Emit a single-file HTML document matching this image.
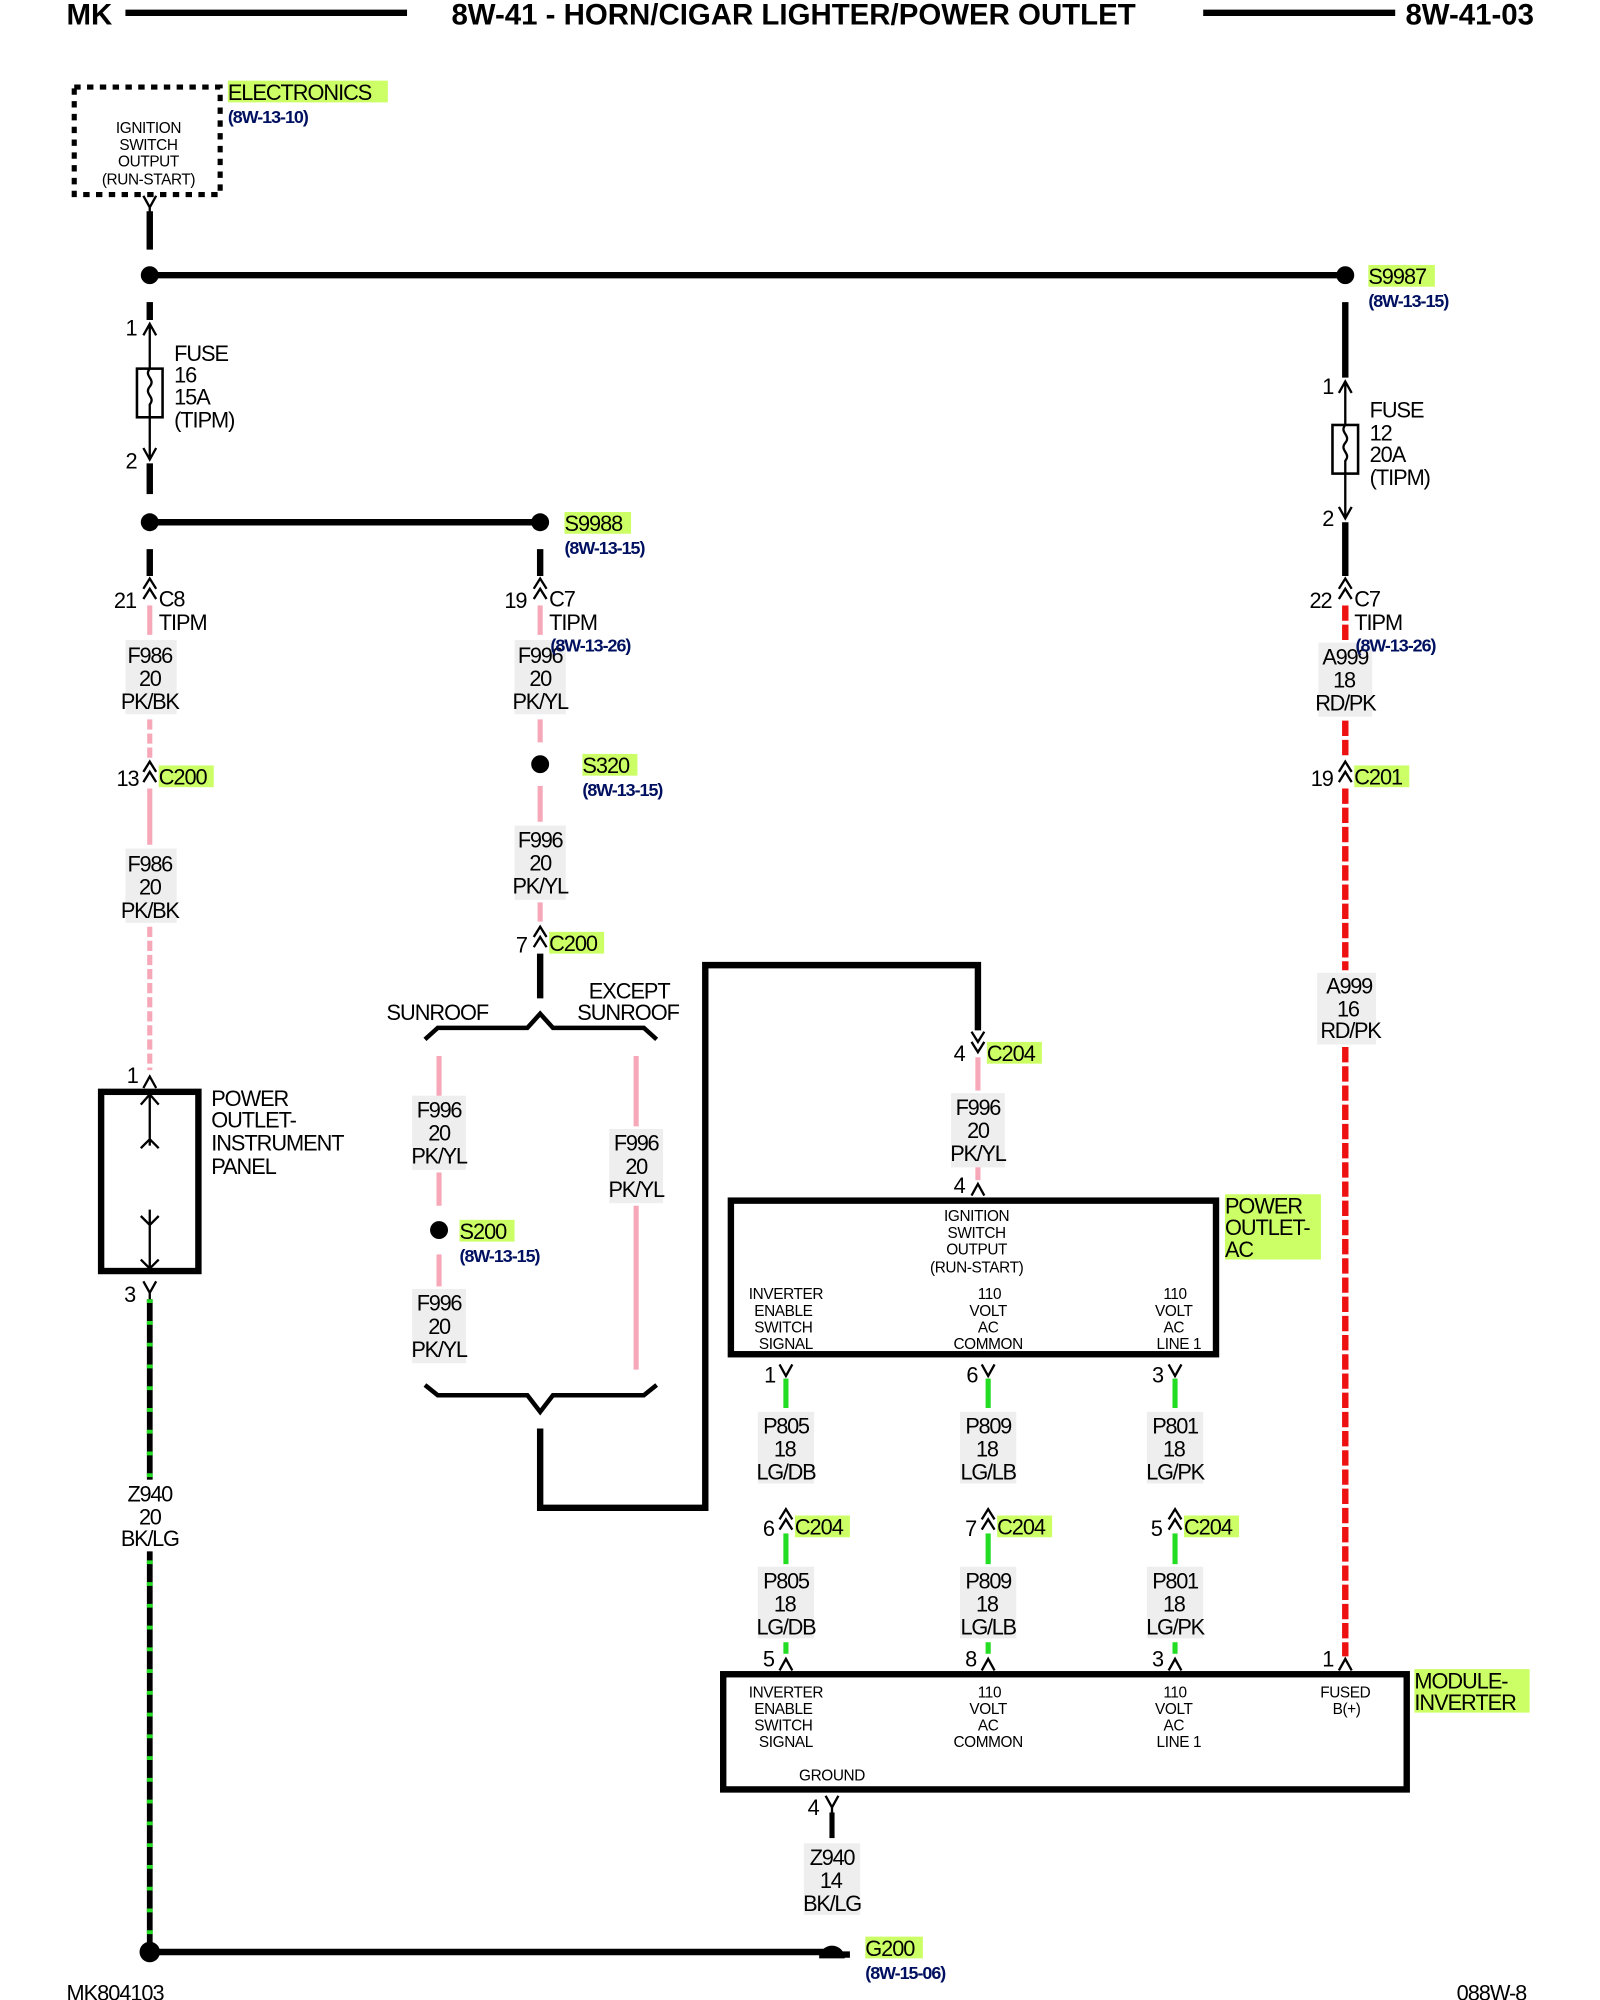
<!DOCTYPE html>
<html><head><meta charset="utf-8"><style>
html,body{margin:0;padding:0;background:#fff}
svg{display:block}
text{font-family:"Liberation Sans",sans-serif;fill:#000}
.h{font-size:23px;font-weight:bold}
.w{font-size:17px;text-anchor:middle;letter-spacing:-1px}
.s{font-size:12px;text-anchor:middle;letter-spacing:-0.3px}
.l{font-size:17px;letter-spacing:-0.8px}
.r{font-size:14px;fill:#001060;font-weight:bold;letter-spacing:-0.8px}
.g{fill:#ccff66}
.k{stroke:#000;stroke-width:5;fill:none}
.c{stroke:#000;stroke-width:1.8;fill:none}
.pk{stroke:#f7a8b8;stroke-width:4}
.rd{stroke:#ee1111;stroke-width:5;stroke-dasharray:12 3}
.gn{stroke:#22dd22;stroke-width:4}
.bg{fill:#eeeeee}
</style></head><body>
<svg width="1600" height="2000" viewBox="0 0 1250 1562.5" xmlns="http://www.w3.org/2000/svg">
<!-- header -->
<text x="52" y="19" class="h">MK</text>
<line x1="98" y1="10" x2="318" y2="10" stroke="#000" stroke-width="5"/>
<text x="620" y="19" class="h" text-anchor="middle">8W-41 - HORN/CIGAR LIGHTER/POWER OUTLET</text>
<line x1="940" y1="10" x2="1090" y2="10" stroke="#000" stroke-width="5"/>
<text x="1098" y="19" class="h">8W-41-03</text>

<!-- electronics -->
<rect x="58" y="68" width="114" height="84" fill="none" stroke="#000" stroke-width="4" stroke-dasharray="5 5"/>
<text class="s" x="116" y="104">IGNITION</text><text class="s" x="116" y="117">SWITCH</text><text class="s" x="116" y="130">OUTPUT</text><text class="s" x="116" y="144">(RUN-START)</text>
<rect x="178" y="63" width="125" height="17" class="g"/><text class="l" x="178" y="78">ELECTRONICS</text>
<text class="r" x="178" y="96">(8W-13-10)</text>
<path class="c" d="M112 153 L117 162 L122 153 M117 162 V168"/>
<line x1="117" y1="165" x2="117" y2="195" class="k"/>
<line x1="117" y1="215" x2="1051" y2="215" class="k"/>
<circle cx="117" cy="215" r="7"/><circle cx="1051" cy="215" r="7"/>
<rect x="1069" y="207" width="52" height="17" class="g"/><text class="l" x="1069" y="222">S9987</text>
<text class="r" x="1069" y="240">(8W-13-15)</text>

<!-- fuse 16 -->
<line x1="117" y1="236" x2="117" y2="250" class="k"/>
<path class="c" d="M112 262 L117 253 L122 262 M117 253 V358 M112 350 L117 359 L122 350"/>
<rect x="107" y="288" width="20" height="38" fill="#fff" stroke="#000" stroke-width="2"/>
<path class="c" d="M117 288 c-5 6 5 8 0 14 c-5 6 5 8 0 14 V326"/>
<text class="l" x="98" y="262">1</text><text class="l" x="98" y="366">2</text>
<text class="l" x="136" y="282">FUSE</text><text class="l" x="136" y="299">16</text><text class="l" x="136" y="316">15A</text><text class="l" x="136" y="334">(TIPM)</text>
<line x1="117" y1="362" x2="117" y2="386" class="k"/>
<line x1="117" y1="408" x2="422" y2="408" class="k"/>
<circle cx="117" cy="408" r="7"/><circle cx="422" cy="408" r="7"/>
<rect x="441" y="400" width="52" height="17" class="g"/><text class="l" x="441" y="415">S9988</text>
<text class="r" x="441" y="433">(8W-13-15)</text>

<!-- left column -->
<line x1="117" y1="429" x2="117" y2="450" class="k"/>
<path class="c" d="M112 460 L117 452 L122 460 M112 468 L117 460 L122 468"/>
<text class="l" x="89" y="475">21</text><text class="l" x="124" y="474">C8</text><text class="l" x="124" y="492">TIPM</text>
<line x1="117" y1="473" x2="117" y2="496" class="pk"/>
<rect x="98" y="500" width="40" height="58" class="bg"/>
<text class="w" x="117" y="518">F986</text><text class="w" x="117" y="536">20</text><text class="w" x="117" y="554">PK/BK</text>
<line x1="117" y1="562" x2="117" y2="592" class="pk" stroke-dasharray="8 3"/>
<path class="c" d="M112 603 L117 595 L122 603 M112 611 L117 603 L122 611"/>
<text class="l" x="91" y="614">13</text>
<rect x="124" y="598" width="43" height="17" class="g"/><text class="l" x="124" y="613">C200</text>
<line x1="117" y1="616" x2="117" y2="660" class="pk"/>
<rect x="98" y="663" width="40" height="58" class="bg"/>
<text class="w" x="117" y="681">F986</text><text class="w" x="117" y="699">20</text><text class="w" x="117" y="717">PK/BK</text>
<line x1="117" y1="724" x2="117" y2="836" class="pk" stroke-dasharray="8 3"/>
<path class="c" d="M112 850 L117 841 L122 850"/>
<text class="l" x="99" y="846">1</text>
<rect x="79" y="853" width="76" height="140" class="k"/>
<path class="c" d="M117 853 V895 M110 863 L117 855 L124 863 M110 897 L117 890 L124 897 M117 945 V990 M110 950 L117 957 L124 950 M110 984 L117 991 L124 984"/>
<text class="l" x="165" y="864">POWER</text><text class="l" x="165" y="881">OUTLET-</text><text class="l" x="165" y="899">INSTRUMENT</text><text class="l" x="165" y="917">PANEL</text>
<text class="l" x="97" y="1017">3</text>
<path class="c" d="M112 1001 L117 1010 L122 1001 M117 1010 V1016"/>
<line x1="117" y1="1015" x2="117" y2="1525" stroke="#000" stroke-width="4.5"/>
<line x1="117" y1="1015" x2="117" y2="1525" stroke="#22dd22" stroke-width="4.5" stroke-dasharray="3 14"/>
<rect x="97" y="1156" width="42" height="56" fill="#fff"/>
<text class="w" x="117" y="1173">Z940</text><text class="w" x="117" y="1191">20</text><text class="w" x="117" y="1208">BK/LG</text>
<line x1="117" y1="1525" x2="650" y2="1525" class="k"/>
<circle cx="117" cy="1525" r="8"/>
<path d="M640 1530 a10 10 0 0 1 20 0 Z"/><line x1="640" y1="1527" x2="664" y2="1527" class="k"/>
<rect x="676" y="1513" width="45" height="17" class="g"/><text class="l" x="676" y="1528">G200</text>
<text class="r" x="676" y="1546">(8W-15-06)</text>
<text x="52" y="1563" class="l">MK804103</text>
<text x="1138" y="1563" class="l">088W-8</text>

<!-- middle column -->
<line x1="422" y1="429" x2="422" y2="450" class="k"/>
<path class="c" d="M417 460 L422 452 L427 460 M417 468 L422 460 L427 468"/>
<text class="l" x="394" y="475">19</text><text class="l" x="429" y="474">C7</text><text class="l" x="429" y="492">TIPM</text>
<line x1="422" y1="473" x2="422" y2="496" class="pk"/>
<rect x="402" y="500" width="40" height="58" class="bg"/>
<text class="w" x="422" y="518">F996</text><text class="w" x="422" y="536">20</text><text class="w" x="422" y="554">PK/YL</text>
<text class="r" x="430" y="509">(8W-13-26)</text>
<line x1="422" y1="562" x2="422" y2="580" class="pk"/>
<circle cx="422" cy="597" r="7"/>
<rect x="455" y="589" width="43" height="17" class="g"/><text class="l" x="455" y="604">S320</text>
<text class="r" x="455" y="622">(8W-13-15)</text>
<line x1="422" y1="614" x2="422" y2="642" class="pk"/>
<rect x="402" y="645" width="40" height="58" class="bg"/>
<text class="w" x="422" y="662">F996</text><text class="w" x="422" y="680">20</text><text class="w" x="422" y="698">PK/YL</text>
<line x1="422" y1="705" x2="422" y2="720" class="pk"/>
<path class="c" d="M417 732 L422 724 L427 732 M417 740 L422 732 L427 740"/>
<text class="l" x="403" y="744">7</text>
<rect x="429" y="728" width="43" height="17" class="g"/><text class="l" x="429" y="743">C200</text>
<line x1="422" y1="745" x2="422" y2="780" class="k"/>
<path class="k" style="stroke-width:3.5" d="M332 812 L342 803 H412 L422 792 L432 803 H503 L513 812"/>
<text class="l" x="302" y="797">SUNROOF</text>
<text class="l" x="460" y="780">EXCEPT</text><text class="l" x="451" y="797">SUNROOF</text>
<!-- sunroof branch -->
<line x1="343" y1="825" x2="343" y2="858" class="pk"/>
<rect x="322" y="856" width="42" height="58" class="bg"/>
<text class="w" x="343" y="873">F996</text><text class="w" x="343" y="891">20</text><text class="w" x="343" y="909">PK/YL</text>
<line x1="343" y1="916" x2="343" y2="942" class="pk"/>
<circle cx="343" cy="961" r="7"/>
<rect x="359" y="953" width="43" height="17" class="g"/><text class="l" x="359" y="968">S200</text>
<text class="r" x="359" y="986">(8W-13-15)</text>
<line x1="343" y1="980" x2="343" y2="1005" class="pk"/>
<rect x="322" y="1007" width="42" height="58" class="bg"/>
<text class="w" x="343" y="1024">F996</text><text class="w" x="343" y="1042">20</text><text class="w" x="343" y="1060">PK/YL</text>
<!-- except -->
<line x1="497" y1="825" x2="497" y2="880" class="pk"/>
<rect x="476" y="882" width="42" height="58" class="bg"/>
<text class="w" x="497" y="899">F996</text><text class="w" x="497" y="917">20</text><text class="w" x="497" y="935">PK/YL</text>
<line x1="497" y1="942" x2="497" y2="1070" class="pk"/>
<path class="k" style="stroke-width:3.5" d="M332 1082 L342 1090 H412 L422 1103 L432 1090 H503 L513 1082"/>
<path class="k" d="M422 1116 V1178 H551 V754 H764 V805"/>
<path class="c" d="M759 806 L764 814 L769 806 M759 814 L764 822 L769 814"/>
<text class="l" x="745" y="829">4</text>
<rect x="771" y="814" width="43" height="17" class="g"/><text class="l" x="771" y="829">C204</text>
<line x1="764" y1="826" x2="764" y2="852" class="pk"/>
<rect x="743" y="854" width="42" height="58" class="bg"/>
<text class="w" x="764" y="871">F996</text><text class="w" x="764" y="889">20</text><text class="w" x="764" y="907">PK/YL</text>
<line x1="764" y1="912" x2="764" y2="922" class="pk"/>
<path class="c" d="M759 934 L764 925 L769 934"/>
<text class="l" x="745" y="932">4</text>

<!-- power outlet AC box -->
<rect x="571" y="938" width="379" height="120" class="k"/>
<text class="s" x="763" y="954">IGNITION</text><text class="s" x="763" y="967">SWITCH</text><text class="s" x="763" y="980">OUTPUT</text><text class="s" x="763" y="994">(RUN-START)</text>
<text class="s" x="614" y="1015">INVERTER</text><text class="s" x="612" y="1028">ENABLE</text><text class="s" x="612" y="1041">SWITCH</text><text class="s" x="614" y="1054">SIGNAL</text>
<text class="s" x="773" y="1015">110</text><text class="s" x="772" y="1028">VOLT</text><text class="s" x="772" y="1041">AC</text><text class="s" x="772" y="1054">COMMON</text>
<text class="s" x="918" y="1015">110</text><text class="s" x="917" y="1028">VOLT</text><text class="s" x="917" y="1041">AC</text><text class="s" x="921" y="1054">LINE 1</text>
<rect x="957" y="933" width="75" height="51" class="g"/>
<text class="l" x="957" y="948">POWER</text><text class="l" x="957" y="965">OUTLET-</text><text class="l" x="957" y="982">AC</text>

<!-- three green columns -->
<g id="cols">
<path class="c" d="M609 1066 L614 1075 L619 1066 M767 1066 L772 1075 L777 1066 M913 1066 L918 1075 L923 1066"/>
<text class="l" x="597" y="1080">1</text><text class="l" x="755" y="1080">6</text><text class="l" x="900" y="1080">3</text>
<line x1="614" y1="1077" x2="614" y2="1100" class="gn"/><line x1="772" y1="1077" x2="772" y2="1100" class="gn"/><line x1="918" y1="1077" x2="918" y2="1100" class="gn"/>
<rect x="592" y="1103" width="44" height="56" class="bg"/><rect x="750" y="1103" width="44" height="56" class="bg"/><rect x="896" y="1103" width="44" height="56" class="bg"/>
<text class="w" x="614" y="1120">P805</text><text class="w" x="613" y="1138">18</text><text class="w" x="614" y="1156">LG/DB</text>
<text class="w" x="772" y="1120">P809</text><text class="w" x="771" y="1138">18</text><text class="w" x="772" y="1156">LG/LB</text>
<text class="w" x="918" y="1120">P801</text><text class="w" x="917" y="1138">18</text><text class="w" x="918" y="1156">LG/PK</text>
<path class="c" d="M609 1187 L614 1179 L619 1187 M609 1195 L614 1187 L619 1195 M767 1187 L772 1179 L777 1187 M767 1195 L772 1187 L777 1195 M913 1187 L918 1179 L923 1187 M913 1195 L918 1187 L923 1195"/>
<text class="l" x="596" y="1200">6</text><text class="l" x="754" y="1200">7</text><text class="l" x="899" y="1200">5</text>
<rect x="621" y="1184" width="43" height="17" class="g"/><text class="l" x="621" y="1199">C204</text>
<rect x="779" y="1184" width="43" height="17" class="g"/><text class="l" x="779" y="1199">C204</text>
<rect x="925" y="1184" width="43" height="17" class="g"/><text class="l" x="925" y="1199">C204</text>
<line x1="614" y1="1198" x2="614" y2="1222" class="gn"/><line x1="772" y1="1198" x2="772" y2="1222" class="gn"/><line x1="918" y1="1198" x2="918" y2="1222" class="gn"/>
<rect x="592" y="1224" width="44" height="56" class="bg"/><rect x="750" y="1224" width="44" height="56" class="bg"/><rect x="896" y="1224" width="44" height="56" class="bg"/>
<text class="w" x="614" y="1241">P805</text><text class="w" x="613" y="1259">18</text><text class="w" x="614" y="1277">LG/DB</text>
<text class="w" x="772" y="1241">P809</text><text class="w" x="771" y="1259">18</text><text class="w" x="772" y="1277">LG/LB</text>
<text class="w" x="918" y="1241">P801</text><text class="w" x="917" y="1259">18</text><text class="w" x="918" y="1277">LG/PK</text>
<line x1="614" y1="1283" x2="614" y2="1292" class="gn"/><line x1="772" y1="1283" x2="772" y2="1292" class="gn"/><line x1="918" y1="1283" x2="918" y2="1292" class="gn"/>
<path class="c" d="M609 1305 L614 1296 L619 1305 M767 1305 L772 1296 L777 1305 M913 1305 L918 1296 L923 1305 M1046 1305 L1051 1296 L1056 1305"/>
<text class="l" x="596" y="1302">5</text><text class="l" x="754" y="1302">8</text><text class="l" x="900" y="1302">3</text><text class="l" x="1033" y="1302">1</text>
</g>

<!-- module inverter -->
<rect x="565" y="1308" width="534" height="90" class="k"/>
<text class="s" x="614" y="1326">INVERTER</text><text class="s" x="612" y="1339">ENABLE</text><text class="s" x="612" y="1352">SWITCH</text><text class="s" x="614" y="1365">SIGNAL</text>
<text class="s" x="773" y="1326">110</text><text class="s" x="772" y="1339">VOLT</text><text class="s" x="772" y="1352">AC</text><text class="s" x="772" y="1365">COMMON</text>
<text class="s" x="918" y="1326">110</text><text class="s" x="917" y="1339">VOLT</text><text class="s" x="917" y="1352">AC</text><text class="s" x="921" y="1365">LINE 1</text>
<text class="s" x="1051" y="1326">FUSED</text><text class="s" x="1052" y="1339">B(+)</text>
<text class="s" x="650" y="1391">GROUND</text>
<rect x="1105" y="1304" width="90" height="34" class="g"/>
<text class="l" x="1105" y="1319">MODULE-</text><text class="l" x="1105" y="1336">INVERTER</text>
<path class="c" d="M645 1403 L650 1412 L655 1403 M650 1412 V1418"/>
<text class="l" x="631" y="1418">4</text>
<line x1="650" y1="1416" x2="650" y2="1436" class="k" style="stroke-width:4"/>
<rect x="628" y="1440" width="44" height="56" class="bg"/>
<text class="w" x="650" y="1457">Z940</text><text class="w" x="649" y="1475">14</text><text class="w" x="650" y="1493">BK/LG</text>

<!-- right column -->
<line x1="1051" y1="236" x2="1051" y2="295" class="k"/>
<path class="c" d="M1046 307 L1051 298 L1056 307 M1051 298 V404 M1046 396 L1051 405 L1056 396"/>
<rect x="1041" y="332" width="20" height="38" fill="#fff" stroke="#000" stroke-width="2"/>
<path class="c" d="M1051 332 c-5 6 5 8 0 14 c-5 6 5 8 0 14 V370"/>
<text class="l" x="1033" y="308">1</text><text class="l" x="1033" y="411">2</text>
<text class="l" x="1070" y="326">FUSE</text><text class="l" x="1070" y="344">12</text><text class="l" x="1070" y="361">20A</text><text class="l" x="1070" y="379">(TIPM)</text>
<line x1="1051" y1="408" x2="1051" y2="450" class="k"/>
<path class="c" d="M1046 460 L1051 452 L1056 460 M1046 468 L1051 460 L1056 468"/>
<text class="l" x="1023" y="475">22</text><text class="l" x="1058" y="474">C7</text><text class="l" x="1058" y="492">TIPM</text>
<line x1="1051" y1="473" x2="1051" y2="500" class="rd"/>
<rect x="1030" y="502" width="42" height="58" class="bg"/>
<text class="w" x="1051" y="519">A999</text><text class="w" x="1050" y="537">18</text><text class="w" x="1051" y="555">RD/PK</text>
<text class="r" x="1059" y="509">(8W-13-26)</text>
<line x1="1051" y1="563" x2="1051" y2="592" class="rd"/>
<path class="c" d="M1046 603 L1051 595 L1056 603 M1046 611 L1051 603 L1056 611"/>
<text class="l" x="1024" y="614">19</text>
<rect x="1058" y="598" width="43" height="17" class="g"/><text class="l" x="1058" y="613">C201</text>
<line x1="1051" y1="616" x2="1051" y2="758" class="rd"/>
<rect x="1029" y="760" width="46" height="56" class="bg"/>
<text class="w" x="1054" y="776">A999</text><text class="w" x="1053" y="794">16</text><text class="w" x="1055" y="811">RD/PK</text>
<line x1="1051" y1="818" x2="1051" y2="1294" class="rd"/>
</svg>
</body></html>
